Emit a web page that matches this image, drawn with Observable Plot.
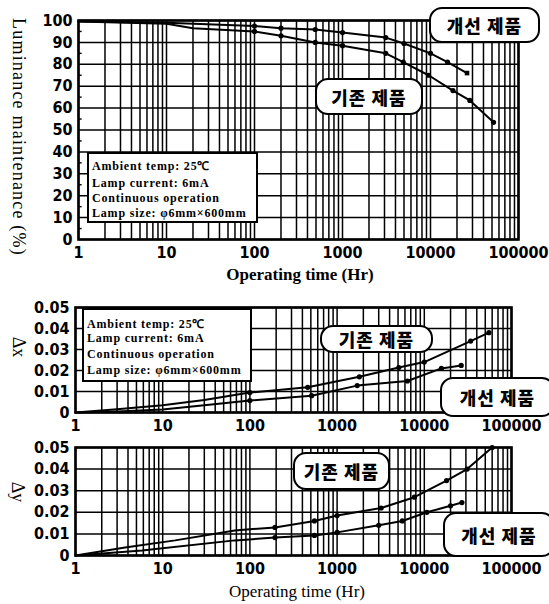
<!DOCTYPE html>
<html><head><meta charset="utf-8">
<script src="https://cdn.jsdelivr.net/npm/d3@7"></script>
<script src="https://cdn.jsdelivr.net/npm/@observablehq/plot@0.6"></script>
<style>
body{margin:0;background:#fff}
#wrap{position:relative;width:549px;height:604px;overflow:hidden;background:#fff}
.p{position:absolute;left:0}
.tag{position:absolute;border:2px solid #000;border-radius:13px;background:#fff;font:900 18px "Noto Sans CJK KR";display:flex;align-items:center;justify-content:center;box-sizing:border-box;letter-spacing:1px}
.cond{position:absolute;border:2px solid #000;background:#fff;font:bold 12px "Liberation Serif";box-sizing:border-box;letter-spacing:0.8px}
.cond div{position:absolute;left:3px;white-space:nowrap}
.lab{position:absolute;white-space:nowrap;font-family:"Liberation Serif";color:#000}
</style></head>
<body><div id="wrap"></div>
<script>
// ---- data ----
const xTickValues = [1, 10, 100, 1000, 10000, 100000];
const seriesNames = ["개선 제품", "기존 제품"];

// Luminance maintenance (%)
const lumImpT = [1, 10, 100, 200, 490, 1000, 3100, 5000, 10000, 15600, 26000];
const lumImpV = [99.5, 99, 97.5, 96.5, 95.9, 94.5, 92.2, 89.5, 85, 81, 76];
const lumExiT = [1, 10, 20, 100, 200, 490, 1000, 3100, 4900, 9500, 18000, 28000, 52000];
const lumExiV = [99.5, 98.5, 96.5, 95, 93, 90, 88.5, 85, 81, 75, 68, 63.5, 53.5];

// Δx
const dxExiT = [1, 3, 10, 30, 100, 460, 1800, 5100, 10000, 34000, 55000];
const dxExiV = [0, 0.0015, 0.0035, 0.006, 0.0095, 0.012, 0.017, 0.0214, 0.024, 0.034, 0.038];
const dxImpT = [1, 3, 10, 30, 100, 510, 1700, 6400, 15700, 26500];
const dxImpV = [0, 0.0005, 0.0014, 0.0035, 0.0057, 0.008, 0.0128, 0.015, 0.021, 0.0224];

// Δy
const dyExiT = [1, 3.7, 13.9, 67, 194, 550, 1000, 3200, 7700, 18000, 31000, 60000];
const dyExiV = [0, 0.0037, 0.007, 0.0116, 0.013, 0.016, 0.0185, 0.022, 0.027, 0.0347, 0.040, 0.050];
const dyImpT = [1, 5.8, 67, 194, 550, 1000, 3000, 5600, 10700, 20000, 27000];
const dyImpV = [0, 0.0023, 0.007, 0.0083, 0.0093, 0.0107, 0.014, 0.016, 0.020, 0.023, 0.0245];

const lumTicks = [0, 10, 20, 30, 40, 50, 60, 70, 80, 90, 100];
const dTicks = [0, 0.01, 0.02, 0.03, 0.04, 0.05];
const condLines = ["Ambient temp: 25℃", "Lamp current: 6mA", "Continuous operation", "Lamp size: φ6mm×600mm"];

// ---- helpers ----
const rows = (ts, vs) => ts.map((t, i) => ({t, v: vs[i], last: i === ts.length - 1}));
const minorX = [];
for (const d of [1, 10, 100, 1000, 10000]) for (let k = 1; k < 10; k++) minorX.push(k * d);
minorX.push(100000);

const wrap = document.getElementById("wrap");
const baseStyle = {fontFamily: "'DejaVu Sans Condensed'", fontWeight: "bold", fontSize: "16px", color: "#000", background: "transparent", overflow: "visible"};

function panel({top, height, mt, mb, ml, mr, yDomain, yTicks, yFmt, series, square, minorY}) {
  const marks = [
    Plot.ruleX(minorX, {stroke: "#000", strokeWidth: 1.5}),
    Plot.ruleY(yTicks, {stroke: "#000", strokeWidth: 1.5}),
  ];
  if (minorY) marks.push(Plot.ruleY(minorY, {x1: 1, x2: 1.1, stroke: "#000", strokeWidth: 1.4}));
  marks.push(Plot.frame({stroke: "#000", strokeWidth: 2.6}));
  for (const s of series) {
    marks.push(Plot.line(s, {x: "t", y: "v", stroke: "#000", strokeWidth: 2}));
    marks.push(Plot.dot(s.filter(d => d.t >= 100), {x: "t", y: "v", fill: "#000", r: 2.6,
      symbol: d => (square && d.last && s === series[0]) ? "square" : "circle"}));
  }
  const svg = Plot.plot({
    width: 549, height, marginTop: mt, marginBottom: mb, marginLeft: ml, marginRight: mr,
    x: {type: "log", domain: [1, 100000], ticks: xTickValues, tickFormat: d => String(d), tickSize: 0, tickPadding: 7, label: null},
    y: {domain: yDomain, ticks: yTicks, tickFormat: yFmt, tickSize: 0, tickPadding: 6, label: null},
    symbol: {type: "identity"},
    style: baseStyle,
    marks
  });
  svg.classList.add("p");
  svg.style.top = top + "px";
  wrap.appendChild(svg);
}

const fmtD = d => d === 0 ? "0" : d.toFixed(2);

panel({top: 0, height: 290, mt: 20, mb: 51, ml: 78, mr: 31, yDomain: [0, 100], yTicks: lumTicks, yFmt: d => String(d),
  series: [rows(lumImpT, lumImpV), rows(lumExiT, lumExiV)], square: true,
  minorY: [5, 15, 25, 35, 45, 55, 65, 75, 85, 95]});
panel({top: 290, height: 147, mt: 17, mb: 25, ml: 75, mr: 38, yDomain: [0, 0.05], yTicks: dTicks, yFmt: fmtD,
  series: [rows(dxImpT, dxImpV), rows(dxExiT, dxExiV)]});
panel({top: 437, height: 167, mt: 10, mb: 49, ml: 75, mr: 38, yDomain: [0, 0.05], yTicks: dTicks, yFmt: fmtD,
  series: [rows(dyImpT, dyImpV), rows(dyExiT, dyExiV)]});

// ---- annotations ----
function tag(text, x, y, w, h) {
  const d = document.createElement("div");
  d.className = "tag"; d.textContent = text;
  Object.assign(d.style, {left: x + "px", top: y + "px", width: w + "px", height: h + "px"});
  wrap.appendChild(d);
}
tag(seriesNames[0], 429, 7, 111, 36);
tag(seriesNames[1], 315, 78, 108, 37);
tag(seriesNames[1], 320, 325, 113, 28);
tag(seriesNames[0], 440, 377, 115, 40);
tag(seriesNames[1], 293, 452, 97, 38);
tag(seriesNames[0], 443, 512, 112, 45);

function cond(x, y, w, h, ys) {
  const b = document.createElement("div");
  b.className = "cond";
  Object.assign(b.style, {left: x + "px", top: y + "px", width: w + "px", height: h + "px"});
  condLines.forEach((t, i) => {
    const l = document.createElement("div");
    l.textContent = t; l.style.top = ys[i] + "px";
    b.appendChild(l);
  });
  wrap.appendChild(b);
}
cond(87, 152, 171, 71, [3, 22, 37, 52]);
cond(82, 308, 170, 74, [5, 21, 37, 53]);

function lab(text, cx, cy, size, rot, bold, ls) {
  const d = document.createElement("div");
  d.className = "lab"; d.textContent = text;
  Object.assign(d.style, {left: cx + "px", top: cy + "px", fontSize: size + "px", fontWeight: bold ? "bold" : "normal",
    letterSpacing: (ls || 0) + "px", transform: `translate(-50%,-50%) rotate(${rot}deg)`});
  wrap.appendChild(d);
}
lab("Luminance maintenance (%)", 18, 137, 18, 90, false, 1.2);
lab("Operating time (Hr)", 300, 275, 17, 0, true, 0);
lab("Operating time (Hr)", 297, 592, 17, 0, false, 0);
lab("Δx", 18, 347, 18, 90, false, 0);
lab("Δy", 17, 492, 18, 90, false, 0);
</script></body></html>
